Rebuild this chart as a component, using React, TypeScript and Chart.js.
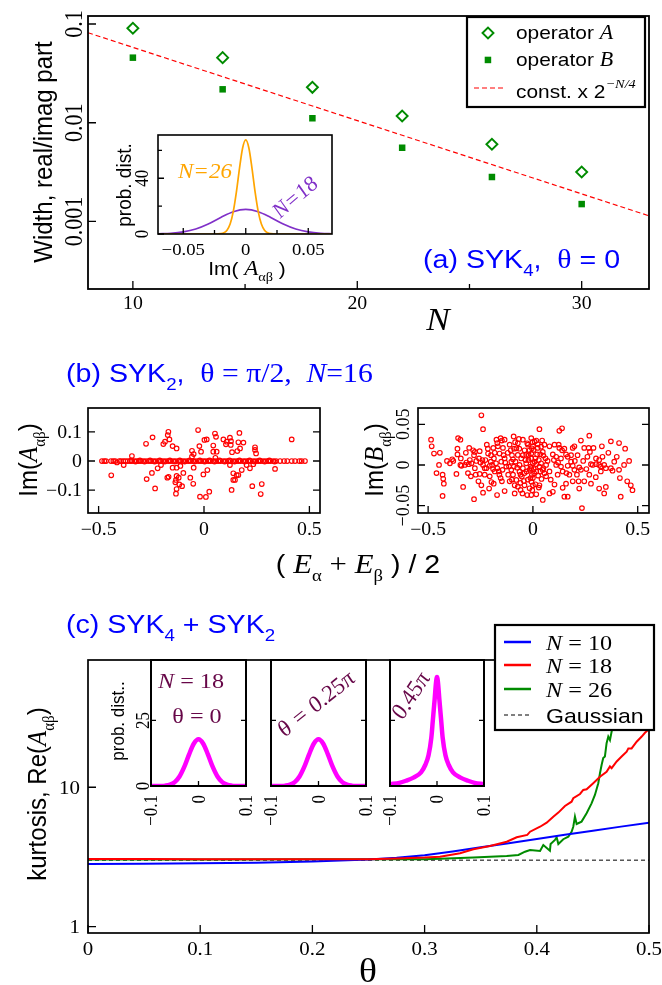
import React, { useEffect, useRef } from 'react';
import { Chart, registerables } from 'chart.js';
Chart.register(...registerables);

// ---------------- data ----------------
// panel (a)
const nValues = [10, 14, 18, 22, 26, 30];
const widthOpA = [0.0905, 0.0456, 0.02285, 0.0117, 0.00605, 0.00317];
const widthOpB = [0.0456, 0.0218, 0.0111, 0.00558, 0.00282, 0.0015];
const fitN = [8, 33];
const fitWidth = [0.0816, 0.00114];
const aXMajor = [10, 20, 30];
const aXMinor = [15, 25];
const aYTicks = [0.1, 0.01, 0.001];
const aYLabels = ['0.1', '0.01', '0.001'];

// inset of (a)
const distN26X = [-0.07, -0.03, -0.025, -0.02, -0.0175, -0.015, -0.0125, -0.01, -0.0075, -0.005, -0.0025, 0, 0.0025, 0.005, 0.0075, 0.01, 0.0125, 0.015, 0.0175, 0.02, 0.025, 0.03, 0.07];
const distN26 = [0, 0, 0, 0.22, 0.83, 2.67, 7.1, 16.1, 30.1, 47.1, 61.7, 67.5, 61.7, 47.1, 30.1, 16.1, 7.1, 2.67, 0.83, 0.22, 0, 0, 0];
const distN18X = [-0.07, -0.06, -0.05, -0.04, -0.03, -0.02, -0.01, 0, 0.01, 0.02, 0.03, 0.04, 0.05, 0.06, 0.07];
const distN18 = [0.13, 0.5, 1.5, 3.6, 7.2, 11.9, 16.0, 17.7, 16.0, 11.9, 7.2, 3.6, 1.5, 0.5, 0.13];
const insAXMajor = [-0.05, 0, 0.05];
const insAXLabels = ['\u22120.05', '0', '0.05'];
const insAXMinor = [-0.025, 0.025];
const insAYMajor = [0, 40];
const insAYMinor = [20, 60];

// panel (b)
const imAOffAxis: number[][] = [
  [-0.244, 0.081], [-0.275, 0.059], [-0.169, 0.100], [-0.172, 0.089], [-0.164, 0.074], [-0.185, 0.066], [-0.193, 0.058], [-0.149, 0.051], [-0.130, 0.043], [-0.028, 0.106], [0.002, 0.072], [-0.022, 0.051], [-0.057, 0.035], [-0.049, 0.024], [-0.057, 0.015], [-0.014, 0.032], [-0.342, 0.017], [-0.381, -0.014], [-0.413, -0.005], [-0.440, -0.049], [-0.220, -0.025], [-0.204, -0.014], [-0.247, -0.041], [-0.272, -0.062], [-0.232, -0.094], [-0.174, -0.057], [-0.168, -0.054], [-0.130, -0.051], [-0.120, -0.057], [-0.133, -0.065], [-0.136, -0.073], [-0.117, -0.080], [-0.098, -0.041], [-0.149, -0.023], [-0.130, -0.023], [-0.112, -0.017], [-0.104, -0.086], [-0.130, -0.096], [-0.133, -0.112], [-0.065, -0.057], [-0.051, -0.078], [-0.049, -0.023], [-0.003, -0.046], [-0.019, -0.122], [0.009, -0.123],
  [0.052, 0.094], [0.057, 0.083], [0.013, 0.074], [0.092, 0.074], [0.108, 0.066], [0.104, 0.057], [0.123, 0.080], [0.128, 0.068], [0.127, 0.055], [0.168, 0.096], [0.163, 0.064], [0.187, 0.063], [0.171, 0.043], [0.158, 0.034], [0.044, 0.053], [0.044, 0.032], [0.060, 0.032], [0.054, 0.011], [0.133, 0.030], [0.242, 0.047], [0.242, 0.038], [0.247, 0.026], [0.416, 0.074], [0.016, -0.031], [0.025, -0.105], [0.123, -0.014], [0.139, -0.042], [0.155, -0.048], [0.147, -0.065], [0.139, -0.065], [0.163, -0.048], [0.179, -0.031], [0.202, -0.014], [0.218, -0.025], [0.234, -0.011], [0.229, -0.086], [0.274, -0.079], [0.269, -0.113], [0.131, -0.099], [0.337, -0.027],
];
const imAOnAxisE = [-0.484, -0.473, -0.465, -0.441, -0.430, -0.421, -0.402, -0.394, -0.383, -0.373, -0.362, -0.351, -0.342, -0.330, -0.319, -0.310, -0.299, -0.288, -0.275, -0.262, -0.251, -0.240, -0.228, -0.215, -0.204, -0.193, -0.180, -0.168, -0.157, -0.145, -0.133, -0.120, -0.109, -0.098, -0.085, -0.073, -0.062, -0.051, -0.038, -0.025, -0.014, -0.003, 0.009, 0.021, 0.032, 0.044, 0.057, 0.068, 0.079, 0.092, 0.104, 0.115, 0.127, 0.139, 0.152, 0.163, 0.174, 0.187, 0.199, 0.210, 0.221, 0.234, 0.247, 0.258, 0.269, 0.281, 0.294, 0.305, 0.316, 0.329, 0.342, 0.361, 0.380, 0.395, 0.416, 0.432, 0.452, 0.463, 0.479];
const imANearAxis: number[][] = [
  [-0.345, 0.002], [-0.325, -0.002], [-0.304, 0.002], [-0.282, -0.002], [-0.256, 0.002], [-0.234, -0.002], [-0.21, 0.002], [-0.186, -0.002], [-0.162, 0.002], [-0.139, -0.002], [-0.115, 0.002], [-0.092, -0.002], [-0.068, 0.002], [-0.045, -0.002], [-0.02, 0.002], [0.003, -0.002], [0.026, 0.002], [0.05, -0.002], [0.074, 0.002], [0.098, -0.002], [0.121, 0.002], [0.145, -0.002], [0.168, 0.002], [0.193, -0.002], [0.216, 0.002], [0.24, -0.002], [0.264, 0.002], [0.288, -0.002], [0.31, 0.002], [0.335, -0.002],
];
const imBPoints: number[][] = [
  [-0.246, 0.061], [-0.238, 0.044], [-0.486, 0.031], [-0.483, 0.023], [-0.472, 0.014], [-0.444, 0.015], [-0.448, 0], [-0.431, -0.012], [-0.428, -0.017], [-0.425, -0.023], [-0.431, -0.038], [-0.357, 0.033], [-0.346, 0.031], [-0.360, 0.013], [-0.365, -0.011], [-0.333, -0.027], [-0.304, 0.021], [-0.301, 0.006], [-0.296, -0.014], [-0.285, 0.018], [-0.281, 0.012], [-0.277, -0.004], [-0.281, -0.042], [-0.396, 0.002], [-0.385, 0.007], [-0.380, 0.005], [-0.344, 0.008], [-0.341, -0.001], [-0.346, 0], [-0.325, 0], [-0.317, 0.003], [-0.306, 0.001], [-0.293, 0.002], [-0.254, 0.017], [-0.257, 0.008], [-0.250, 0.003], [-0.254, -0.011], [-0.241, 0.006], [-0.238, 0], [-0.230, -0.004], [-0.227, 0.006], [-0.222, -0.004], [-0.230, -0.012], [-0.246, -0.025], [-0.238, -0.034], [-0.206, -0.014], [-0.198, -0.021], [-0.209, -0.029], [-0.201, 0.004], [-0.195, 0], [-0.186, 0.008], [-0.182, 0.015], [-0.189, 0.021], [-0.174, 0.031], [-0.170, 0.027], [-0.167, 0.023], [-0.154, 0.033], [-0.148, 0.030], [-0.135, 0.031], [-0.143, 0.021], [-0.140, 0.012], [-0.135, 0.008], [-0.132, 0.003], [-0.127, -0.002], [-0.170, -0.004], [-0.163, -0.008], [-0.154, -0.016], [-0.148, -0.020], [-0.171, -0.037], [-0.135, -0.032], [-0.111, 0.025], [-0.106, 0.018], [-0.100, 0.012], [-0.095, 0.007], [-0.092, 0.035], [-0.103, 0.004], [-0.114, -0.002], [-0.103, -0.006], [-0.095, -0.012], [-0.111, -0.020], [-0.087, -0.025], [-0.067, 0.032], [-0.048, 0.031], [-0.040, 0.018], [-0.048, 0.012], [-0.056, 0.008], [-0.024, 0.025], [-0.016, 0.018], [-0.008, 0.033], [-0.032, 0.002], [-0.048, -0.004], [-0.016, -0.006], [-0.059, -0.012], [-0.024, -0.018], [-0.040, -0.025], [-0.027, -0.037], [-0.008, -0.037], [-0.214, 0.014], [-0.206, -0.001], [-0.182, -0.008], [-0.187, -0.023], [-0.087, -0.035], [-0.277, 0.016], [-0.151, 0.004], [-0.159, 0.014], [-0.064, 0], [-0.040, -0.010], [-0.008, 0.008], [0.000, -0.025], [-0.273, -0.012],
  [-0.079, 0.0205], [-0.072, 0.0123], [-0.083, 0.0041], [-0.075, -0.0033], [-0.064, -0.0082], [-0.053, -0.0143], [-0.043, -0.0197], [-0.032, 0.0123], [-0.021, 0.0061], [-0.011, -0.002], [-0.005, -0.0123], [-0.016, -0.0287], [-0.079, -0.0184], [-0.072, -0.0266], [-0.059, -0.0307], [-0.091, -0.002], [-0.005, 0.0205], [0.000, 0.002], [-0.027, 0.0266], [-0.072, 0.0266],
  [0.031, 0.044], [0.126, 0.042], [0.139, 0.045], [0.016, 0.030], [0.044, 0.030], [0.055, 0.025], [0.000, 0.023], [0.023, 0.021], [0.047, 0.016], [-0.008, 0.014], [0.079, 0.023], [0.103, 0.025], [0.123, 0.025], [0.126, 0.021], [0.139, 0.018], [0.095, 0.013], [0.111, 0.010], [0.134, 0.008], [0.158, 0.013], [0.166, 0.010], [0.182, 0.012], [0.190, 0.021], [0.198, 0.023], [0.213, 0.012], [0.229, 0.030], [0.269, 0.036], [0.245, 0.021], [0.266, 0.021], [0.272, 0.016], [0.289, 0.021], [0.329, 0.023], [0.372, 0.029], [0.411, 0.027], [0.301, 0.008], [0.316, 0.006], [0.332, 0.010], [0.277, 0.001], [0.285, 0], [0.301, 0.001], [0.316, 0], [0.324, -0.002], [0.340, 0], [0.348, -0.004], [0.324, -0.008], [0.380, -0.007], [0.372, -0.004], [0.388, 0.004], [0.411, -0.006], [0.435, 0], [0.459, 0.005], [0.467, -0.025], [0.475, -0.031], [0.415, -0.016], [0.419, -0.039], [0.348, -0.027], [0.340, -0.035], [0.316, -0.029], [0.277, -0.023], [0.269, -0.012], [0.245, -0.020], [0.221, -0.029], [0.218, -0.020], [0.190, -0.020], [0.174, -0.012], [0.158, -0.023], [0.142, -0.028], [0.103, -0.024], [0.095, -0.033], [0.079, -0.035], [0.150, -0.039], [0.166, -0.039], [0.047, -0.043], [0.016, -0.036], [-0.003, -0.031], [0.031, -0.025], [0.063, -0.014], [0.079, -0.008], [0.111, 0], [0.134, -0.002], [0.166, -0.001], [0.190, -0.001], [0.198, -0.006], [0.221, -0.003], [0.229, -0.006], [0.182, 0.004], [0.142, -0.008], [0.118, -0.012], [0.063, 0], [0.039, 0.002], [0.008, 0.004], [-0.008, -0.004], [0.016, -0.008], [0.000, -0.016], [0.234, -0.053],
  [0.008, 0.0287], [0.023, 0.0254], [0.039, 0.0225], [0.003, 0.0184], [0.035, 0.0131], [0.050, 0.0115], [0.012, 0.0082], [0.028, 0.0061], [0.060, 0.0082], [0.016, 0.0008], [0.031, -0.002], [0.050, -0.0041], [0.006, -0.0102], [0.025, -0.0131], [0.041, -0.0172], [0.012, -0.0238], [0.028, -0.0278], [0.055, -0.0102], [-0.007, -0.0205], [0.047, -0.0061],
  [-0.22, 0.025], [-0.215, 0.02], [-0.2, 0.012], [-0.19, -0.005], [-0.176, 0.002], [-0.16, -0.012], [-0.145, -0.006], [-0.12, 0.015], [-0.118, -0.012], [-0.1, -0.018], [-0.09, 0.02], [-0.085, 0.028], [-0.065, 0.02], [-0.06, -0.022], [-0.05, -0.035], [-0.035, 0.006], [-0.03, -0.008], [-0.02, 0.012], [-0.012, -0.016], [-0.002, 0.028], [0.004, -0.005], [0.02, 0.013], [0.036, -0.008], [0.07, 0.005], [0.085, -0.018], [0.1, 0.006], [0.12, 0.003], [0.15, 0.02], [0.16, -0.01], [0.2, 0.005], [0.21, -0.012], [0.24, 0.005], [0.255, -0.005], [0.26, 0.01], [-0.26, -0.02], [-0.27, 0.005], [-0.31, -0.01], [-0.32, 0.015], [-0.36, 0.02], [-0.41, 0.005], [-0.46, -0.01], [0.3, -0.015], [0.36, 0.015], [0.4, 0.01], [0.44, 0.02], [0.45, -0.02],
];
const bETicks = [-0.5, 0, 0.5];
const bELabels = ['\u22120.5', '0', '0.5'];
const bAYTicks = [0.1, 0, -0.1];
const bAYLabels = ['0.1', '0', '\u22120.1'];
const bBYTicks = [0.05, 0, -0.05];
const bBYLabels = ['0.05', '0', '\u22120.05'];

// panel (c)
const thetaN10 = [0, 0.05, 0.1, 0.15, 0.2, 0.25, 0.275, 0.3, 0.325, 0.35, 0.375, 0.4, 0.425, 0.45, 0.475, 0.5];
const kurtN10 = [2.82, 2.83, 2.85, 2.88, 2.93, 3.03, 3.12, 3.26, 3.46, 3.71, 3.97, 4.26, 4.56, 4.87, 5.22, 5.57];
const thetaN18 = [0, 0.05, 0.1, 0.15, 0.2, 0.25, 0.275, 0.3, 0.3137, 0.3316, 0.3435, 0.3583, 0.3732, 0.3821, 0.3915, 0.394, 0.4029, 0.4088, 0.4147, 0.4192, 0.4251, 0.431, 0.4325, 0.4385, 0.4414, 0.4444, 0.4503, 0.4563, 0.4622, 0.4652, 0.4667, 0.4712, 0.4756, 0.4801, 0.4816, 0.4845, 0.489, 0.4935, 0.4964, 0.5];
const kurtN18 = [3.06, 3.06, 3.05, 3.05, 3.04, 3.05, 3.08, 3.13, 3.18, 3.36, 3.59, 3.79, 4.07, 4.38, 4.55, 4.80, 5.21, 5.57, 6.15, 6.58, 7.34, 7.88, 8.34, 8.95, 9.57, 9.67, 10.7, 11.9, 12.9, 14.1, 13.7, 15.3, 16.6, 18.0, 19.0, 19.0, 21.2, 23.1, 24.6, 26.1];
const thetaN26 = [0, 0.1, 0.2, 0.25, 0.3, 0.3137, 0.3434, 0.3732, 0.3836, 0.3895, 0.394, 0.4029, 0.4058, 0.4117, 0.4123, 0.4162, 0.4177, 0.4192, 0.4236, 0.4281, 0.431, 0.4325, 0.434, 0.4355, 0.4399, 0.4444, 0.4488, 0.4518, 0.4548, 0.4563, 0.4578, 0.4592, 0.4607, 0.4622, 0.4637, 0.4652, 0.4667, 0.4682, 0.475, 0.485];
const kurtN26 = [3.03, 3.03, 3.04, 3.04, 3.05, 3.07, 3.13, 3.21, 3.27, 3.45, 3.55, 3.49, 3.85, 3.51, 3.92, 4.19, 4.38, 3.92, 4.24, 4.42, 4.80, 5.21, 6.15, 5.45, 5.67, 6.51, 7.67, 8.81, 10.7, 12.6, 14.5, 16.2, 16.6, 20.7, 23.1, 21.8, 25.1, 27.2, 45, 90];
const thetaGauss = [0, 0.5];
const kurtGauss = [3, 3];
const cXTicks = [0, 0.1, 0.2, 0.3, 0.4, 0.5];
const cXLabels = ['0', '0.1', '0.2', '0.3', '0.4', '0.5'];
const cYTicks = [10, 1];

// insets of (c)
const distCX = [-0.1, -0.08, -0.07, -0.06, -0.05, -0.04, -0.03, -0.02, -0.01, 0, 0.01, 0.02, 0.03, 0.04, 0.05, 0.06, 0.07, 0.08, 0.1];
const distTheta0 = [0, 0.03, 0.13, 0.49, 1.47, 3.61, 7.26, 11.95, 16.1, 17.8, 16.1, 11.95, 7.26, 3.61, 1.47, 0.49, 0.13, 0.03, 0];
const distTheta025 = [0, 0.03, 0.13, 0.49, 1.47, 3.61, 7.26, 11.95, 16.1, 17.8, 16.1, 11.95, 7.26, 3.61, 1.47, 0.49, 0.13, 0.03, 0];
const distTheta045X = [-0.1, -0.08, -0.066, -0.05, -0.034, -0.025, -0.018, -0.012, -0.009, -0.005, -0.002, 0, 0.002, 0.005, 0.009, 0.012, 0.018, 0.025, 0.034, 0.05, 0.066, 0.08, 0.1];
const distTheta045 = [0.7, 1.2, 2.0, 3.2, 5.2, 8.0, 11.7, 18.5, 24.7, 33.0, 39.5, 41.5, 39.5, 33.0, 24.7, 18.5, 11.7, 8.0, 5.2, 3.2, 2.0, 1.2, 0.7];
const insCXTicks = [-0.1, 0, 0.1];
const insCXLabels = ['\u22120.1', '0', '0.1'];
const insCYTicks = [0, 25];

// ---------------- styling helpers ----------------
const W = 662;
const H = 985;
const SX = 1.1;
const SANS = '"Liberation Sans", Arial, Helvetica, sans-serif';
const SERIF = '"Liberation Serif", "Times New Roman", Times, serif';
const sans = (s: number) => `${s}px ${SANS}`;
const serif = (s: number) => `${s}px ${SERIF}`;
const iserif = (s: number) => `italic ${s}px ${SERIF}`;
const BLUE = '#0000ff';
const RED = '#ff0000';
const GREEN = '#008b00';
const ORANGE = '#ffa500';
const PURPLE = '#8030c8';
const MAGENTA = '#ff00ff';
const MAROON = '#670748';
const R90 = -Math.PI / 2;

type Run = [string, string, number?, string?];
type Frame = { l: number; t: number; r: number; b: number };

function txt(ctx: CanvasRenderingContext2D, x: number, y: number, runs: Run[], align: 'left' | 'center' | 'right' = 'left', rot = 0, color = '#000') {
  ctx.save();
  ctx.translate(x, y);
  ctx.scale(SX, 1);
  if (rot) ctx.rotate(rot);
  ctx.textBaseline = 'alphabetic';
  ctx.textAlign = 'left';
  let w = 0;
  for (const r of runs) { ctx.font = r[1]; w += ctx.measureText(r[0]).width; }
  let cx = align === 'center' ? -w / 2 : align === 'right' ? -w : 0;
  for (const r of runs) {
    ctx.font = r[1];
    ctx.fillStyle = r[3] || color;
    ctx.fillText(r[0], cx, r[2] || 0);
    cx += ctx.measureText(r[0]).width;
  }
  ctx.restore();
}

function frameBox(chart: any, lw: number) {
  const ctx = chart.ctx, ca = chart.chartArea;
  ctx.save();
  ctx.strokeStyle = '#000';
  ctx.lineWidth = lw;
  ctx.strokeRect(ca.left, ca.top, ca.right - ca.left, ca.bottom - ca.top);
  ctx.restore();
}

function ticksX(chart: any, vals: number[], len: number, sides = 'b') {
  const ctx = chart.ctx, ca = chart.chartArea, s = chart.scales.x;
  ctx.save(); ctx.strokeStyle = '#000'; ctx.lineWidth = 1.3; ctx.beginPath();
  for (const v of vals) {
    const p = s.getPixelForValue(v);
    if (sides.includes('b')) { ctx.moveTo(p, ca.bottom); ctx.lineTo(p, ca.bottom - len); }
    if (sides.includes('t')) { ctx.moveTo(p, ca.top); ctx.lineTo(p, ca.top + len); }
  }
  ctx.stroke(); ctx.restore();
}

function ticksY(chart: any, vals: number[], len: number, sides = 'l') {
  const ctx = chart.ctx, ca = chart.chartArea, s = chart.scales.y;
  ctx.save(); ctx.strokeStyle = '#000'; ctx.lineWidth = 1.3; ctx.beginPath();
  for (const v of vals) {
    const p = s.getPixelForValue(v);
    if (sides.includes('l')) { ctx.moveTo(ca.left, p); ctx.lineTo(ca.left + len, p); }
    if (sides.includes('r')) { ctx.moveTo(ca.right, p); ctx.lineTo(ca.right - len, p); }
  }
  ctx.stroke(); ctx.restore();
}

const pts = (xs: number[], ys: number[]) => xs.map((x, i) => ({ x, y: ys[i] }));
const pairs = (p: number[][]) => p.map((q) => ({ x: q[0], y: q[1] }));

function makeChart(cv: HTMLCanvasElement, fr: Frame, xs: any, ys: any, datasets: any[], draw: (chart: any, ctx: CanvasRenderingContext2D, X: (v: number) => number, Y: (v: number) => number) => void, white = false) {
  return new Chart(cv, {
    type: 'scatter',
    data: { datasets },
    options: {
      animation: false,
      responsive: false,
      maintainAspectRatio: false,
      devicePixelRatio: 1,
      events: [],
      layout: { padding: { left: fr.l, top: fr.t, right: W - fr.r, bottom: H - fr.b } },
      scales: { x: { ...xs, display: false }, y: { ...ys, display: false } },
      plugins: { legend: { display: false }, tooltip: { enabled: false }, title: { display: false } },
    } as any,
    plugins: [{
      id: 'deco',
      beforeDatasetsDraw(chart: any) {
        if (!white) return;
        const ctx = chart.ctx, ca = chart.chartArea;
        ctx.save(); ctx.fillStyle = '#fff';
        ctx.fillRect(ca.left, ca.top, ca.right - ca.left, ca.bottom - ca.top);
        ctx.restore();
      },
      afterDatasetsDraw(chart: any) {
        const X = (v: number) => chart.scales.x.getPixelForValue(v);
        const Y = (v: number) => chart.scales.y.getPixelForValue(v);
        draw(chart, chart.ctx, X, Y);
      },
    }],
  });
}

const lineDs = (data: any[], color: string, width: number, extra: any = {}) => ({
  data, showLine: true, pointRadius: 0, borderColor: color, backgroundColor: color, borderWidth: width, fill: false, ...extra,
});
const redCircles = (data: any[]) => ({
  data, pointStyle: 'circle', pointRadius: 2.3, borderWidth: 1.15, borderColor: RED, backgroundColor: 'rgba(0,0,0,0)',
});

// ---------------- panels ----------------
function buildA(cv: HTMLCanvasElement) {
  const ds = [
    { data: pts(nValues, widthOpA), pointStyle: 'rectRot', pointRadius: 5.5, borderWidth: 1.9, borderColor: GREEN, backgroundColor: 'rgba(0,0,0,0)' },
    { data: pts(nValues, widthOpB), pointStyle: 'rect', pointRadius: 4.6, borderWidth: 0, borderColor: GREEN, backgroundColor: GREEN },
    lineDs(pts(fitN, fitWidth), RED, 1.2, { borderDash: [5, 3] }),
  ];
  return makeChart(cv, { l: 88, t: 16, r: 649, b: 289 }, { type: 'linear', min: 8, max: 33 }, { type: 'logarithmic', min: 0.000207, max: 0.1205 }, ds, (chart, ctx, X, Y) => {
    frameBox(chart, 1.8);
    ticksX(chart, aXMajor, 8); ticksX(chart, aXMinor, 5);
    ticksY(chart, aYTicks, 8);
    aXMajor.forEach((v) => txt(ctx, X(v), 309, [[String(v), serif(18)]], 'center'));
    aYTicks.forEach((v, i) => txt(ctx, 82, Y(v), [[aYLabels[i], serif(22)]], 'center', R90));
    txt(ctx, 52, 152, [['Width, real/imag part', sans(24)]], 'center', R90);
    txt(ctx, 438, 330, [['N', iserif(32)]], 'center');
    // legend
    ctx.save();
    ctx.fillStyle = '#fff'; ctx.fillRect(467, 17, 178, 90);
    ctx.strokeStyle = '#000'; ctx.lineWidth = 2.2; ctx.strokeRect(467, 17, 178, 90);
    ctx.strokeStyle = GREEN; ctx.lineWidth = 1.9; ctx.beginPath();
    ctx.moveTo(482.5, 33); ctx.lineTo(488, 27.5); ctx.lineTo(493.5, 33); ctx.lineTo(488, 38.5); ctx.closePath(); ctx.stroke();
    ctx.fillStyle = GREEN; ctx.fillRect(484.7, 56.7, 6.5, 6.5);
    ctx.strokeStyle = RED; ctx.lineWidth = 1.2; ctx.setLineDash([5, 3]);
    ctx.beginPath(); ctx.moveTo(474, 88); ctx.lineTo(503, 88); ctx.stroke();
    ctx.restore();
    txt(ctx, 516, 39, [['operator ', sans(19)], ['A', iserif(20)]]);
    txt(ctx, 516, 66, [['operator ', sans(19)], ['B', iserif(20)]]);
    txt(ctx, 516, 98, [['const. x 2', sans(19)], ['\u2212N/4', iserif(13), -10]]);
    txt(ctx, 423, 268, [['(a) SYK', sans(26)], ['4', sans(17), 8], [',  ', sans(26)], ['\u03b8', serif(27)], [' = 0', sans(26)]], 'left', 0, BLUE);
  });
}

function buildAInset(cv: HTMLCanvasElement) {
  const ds = [
    lineDs(pts(distN26X, distN26), ORANGE, 1.7, { cubicInterpolationMode: 'monotone' }),
    lineDs(pts(distN18X, distN18), PURPLE, 1.7, { cubicInterpolationMode: 'monotone' }),
  ];
  return makeChart(cv, { l: 158, t: 135, r: 332, b: 234 }, { type: 'linear', min: -0.0702, max: 0.069 }, { type: 'linear', min: 0, max: 71 }, ds, (chart, ctx, X, Y) => {
    frameBox(chart, 1.6);
    ticksX(chart, insAXMajor, 6); ticksX(chart, insAXMinor, 4);
    ticksY(chart, insAYMajor, 6); ticksY(chart, insAYMinor, 4);
    insAXMajor.forEach((v, i) => txt(ctx, X(v), 255, [[insAXLabels[i], serif(17)]], 'center'));
    insAYMajor.forEach((v) => txt(ctx, 147.5, Y(v), [[String(v), serif(17)]], 'center', R90));
    txt(ctx, 131, 185, [['prob. dist.', sans(19)]], 'center', R90);
    txt(ctx, 247, 275, [['Im( ', sans(19)], ['A', iserif(21)], ['\u03b1\u03b2', serif(13), 6], [' )', sans(19)]], 'center');
    txt(ctx, 205, 178, [['N=26', iserif(21)]], 'center', 0, ORANGE);
    txt(ctx, 300, 202, [['N=18', iserif(21)]], 'center', -0.75, PURPLE);
  }, true);
}

function buildBLeft(cv: HTMLCanvasElement) {
  const ds = [
    redCircles(pairs(imAOffAxis)),
    redCircles(imAOnAxisE.map((e) => ({ x: e, y: 0 }))),
    redCircles(pairs(imANearAxis)),
  ];
  return makeChart(cv, { l: 88, t: 408, r: 320, b: 513 }, { type: 'linear', min: -0.5503, max: 0.5503 }, { type: 'linear', min: -0.178, max: 0.1815 }, ds, (chart, ctx, X, Y) => {
    frameBox(chart, 1.7);
    ticksX(chart, bETicks, 7);
    ticksY(chart, bAYTicks, 7, 'lr');
    bETicks.forEach((v, i) => txt(ctx, X(v), 535, [[bELabels[i], serif(18)]], 'center'));
    bAYTicks.forEach((v, i) => txt(ctx, 82, Y(v) + 6, [[bAYLabels[i], serif(18)]], 'right'));
    txt(ctx, 37, 460, [['Im(', sans(24)], ['A', iserif(25)], ['\u03b1\u03b2', serif(15), 7], [')', sans(24)]], 'center', R90);
    txt(ctx, 66, 382, [['(b) SYK', sans(26)], ['2', sans(17), 8], [',  ', sans(26)], ['\u03b8 = \u03c0/2,  ', serif(27)], ['N', iserif(27)], ['=16', serif(27)]], 'left', 0, BLUE);
    txt(ctx, 358, 573, [['( ', sans(26)], ['E', iserif(28)], ['\u03b1', serif(17), 8], [' + ', serif(28)], ['E', iserif(28)], ['\u03b2', serif(17), 8], [' ) / 2', sans(26)]], 'center');
  });
}

function buildBRight(cv: HTMLCanvasElement) {
  const ds = [redCircles(pairs(imBPoints))];
  return makeChart(cv, { l: 418, t: 408, r: 649, b: 513 }, { type: 'linear', min: -0.5483, max: 0.5539 }, { type: 'linear', min: -0.059, max: 0.07 }, ds, (chart, ctx, X, Y) => {
    frameBox(chart, 1.7);
    ticksX(chart, bETicks, 7);
    ticksY(chart, bBYTicks, 7, 'lr');
    bETicks.forEach((v, i) => txt(ctx, X(v), 535, [[bELabels[i], serif(18)]], 'center'));
    bBYTicks.forEach((v, i) => txt(ctx, 409, Y(v), [[bBYLabels[i], serif(18)]], 'center', R90));
    txt(ctx, 383, 460, [['Im(', sans(24)], ['B', iserif(25)], ['\u03b1\u03b2', serif(15), 7], [')', sans(24)]], 'center', R90);
  });
}

function buildC(cv: HTMLCanvasElement) {
  const ds = [
    lineDs(pts(thetaN18, kurtN18), RED, 2),
    lineDs(pts(thetaN10, kurtN10), BLUE, 2),
    lineDs(pts(thetaN26, kurtN26), GREEN, 2),
    lineDs(pts(thetaGauss, kurtGauss), '#000', 1, { borderDash: [4, 3] }),
  ];
  return makeChart(cv, { l: 88, t: 660, r: 649, b: 933 }, { type: 'linear', min: 0, max: 0.5 }, { type: 'logarithmic', min: 0.901, max: 81.8 }, ds, (chart, ctx, X, Y) => {
    frameBox(chart, 1.7);
    ticksX(chart, cXTicks, 8);
    ticksY(chart, cYTicks, 8);
    cXTicks.forEach((v, i) => txt(ctx, X(v), 955, [[cXLabels[i], serif(19)]], 'center'));
    cYTicks.forEach((v) => txt(ctx, 80, Y(v) + 6.5, [[String(v), serif(19)]], 'right'));
    txt(ctx, 46, 794, [['kurtosis, Re(', sans(24)], ['A', iserif(25)], ['\u03b1\u03b2', serif(15), 7], [')', sans(24)]], 'center', R90);
    txt(ctx, 368, 982, [['\u03b8', serif(34)]], 'center');
    txt(ctx, 66, 633, [['(c) SYK', sans(26)], ['4', sans(17), 8], [' + SYK', sans(26)], ['2', sans(17), 8]], 'left', 0, BLUE);
    // legend
    ctx.save();
    ctx.fillStyle = '#fff'; ctx.fillRect(495, 625, 159, 105);
    ctx.strokeStyle = '#000'; ctx.lineWidth = 2.2; ctx.strokeRect(495, 625, 159, 105);
    const rows: [string, number][] = [[BLUE, 642], [RED, 665], [GREEN, 689]];
    rows.forEach(([c, y]) => { ctx.strokeStyle = c; ctx.lineWidth = 2.5; ctx.beginPath(); ctx.moveTo(504, y); ctx.lineTo(531, y); ctx.stroke(); });
    ctx.strokeStyle = '#000'; ctx.lineWidth = 1; ctx.setLineDash([4, 3]);
    ctx.beginPath(); ctx.moveTo(504, 715); ctx.lineTo(531, 715); ctx.stroke();
    ctx.restore();
    txt(ctx, 546, 649.5, [['N', iserif(22)], [' = 10', serif(22)]]);
    txt(ctx, 546, 672.5, [['N', iserif(22)], [' = 18', serif(22)]]);
    txt(ctx, 546, 696.5, [['N', iserif(22)], [' = 26', serif(22)]]);
    txt(ctx, 546, 722.5, [['Gaussian', sans(21)]]);
  });
}

function buildCInset(cv: HTMLCanvasElement, fr: Frame, xs: number[], ys: number[], which: number) {
  const ds = [lineDs(pts(xs, ys), MAGENTA, 4.5, { cubicInterpolationMode: 'monotone' })];
  return makeChart(cv, fr, { type: 'linear', min: -0.1, max: 0.1 }, { type: 'linear', min: 0, max: 48 }, ds, (chart, ctx, X, Y) => {
    frameBox(chart, 2);
    ticksX(chart, [0], 5);
    ticksY(chart, [25], 5, 'lr');
    insCXTicks.forEach((v, i) => txt(ctx, X(v) + 6.3, 795, [[insCXLabels[i], serif(17)]], 'right', R90));
    if (which === 0) {
      insCYTicks.forEach((v) => txt(ctx, 148.5, Y(v), [[String(v), serif(17)]], 'center', R90));
      txt(ctx, 124, 721, [['prob. dist..', sans(17)]], 'center', R90);
      txt(ctx, 191, 688, [['N', iserif(22)], [' = 18', serif(22)]], 'center', 0, MAROON);
      txt(ctx, 197, 723, [['\u03b8 = 0', serif(22)]], 'center', 0, MAROON);
    } else if (which === 1) {
      txt(ctx, 321, 709, [['\u03b8 = 0.25\u03c0', iserif(22)]], 'center', -0.72, MAROON);
    } else {
      txt(ctx, 417, 699, [['0.45\u03c0', iserif(22)]], 'center', -1.03, MAROON);
    }
  }, true);
}

export default function App() {
  const refs = useRef<(HTMLCanvasElement | null)[]>([]);
  useEffect(() => {
    const c = refs.current;
    const charts: Chart[] = [];
    charts.push(buildA(c[0]!));
    charts.push(buildAInset(c[1]!));
    charts.push(buildBLeft(c[2]!));
    charts.push(buildBRight(c[3]!));
    charts.push(buildC(c[4]!));
    charts.push(buildCInset(c[5]!, { l: 151, t: 660, r: 246, b: 786 }, distCX, distTheta0, 0));
    charts.push(buildCInset(c[6]!, { l: 271, t: 660, r: 366, b: 786 }, distCX, distTheta025, 1));
    charts.push(buildCInset(c[7]!, { l: 390, t: 660, r: 484, b: 786 }, distTheta045X, distTheta045, 2));
    return () => charts.forEach((ch) => ch.destroy());
  }, []);
  return (
    <div style={{ position: 'absolute', left: 0, top: 0, width: W, height: H, background: '#fff', overflow: 'hidden' }}>
      {[0, 1, 2, 3, 4, 5, 6, 7].map((i) => (
        <canvas key={i} ref={(el) => { refs.current[i] = el; }} width={W} height={H} style={{ position: 'absolute', left: 0, top: 0, width: W, height: H }} />
      ))}
    </div>
  );
}
